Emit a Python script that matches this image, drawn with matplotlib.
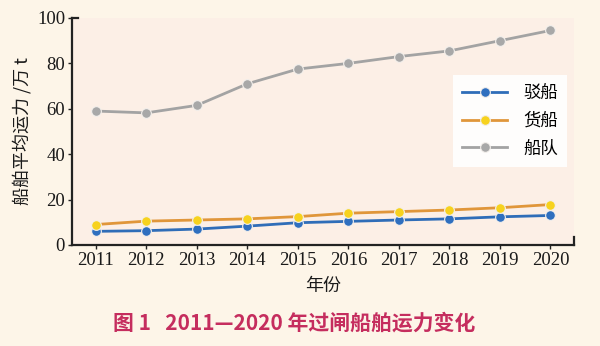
import matplotlib
matplotlib.use("Agg")
import matplotlib.pyplot as plt

years = [2011, 2012, 2013, 2014, 2015, 2016, 2017, 2018, 2019, 2020]
barge = [6.0, 6.3, 7.0, 8.3, 9.8, 10.4, 11.0, 11.5, 12.4, 13.0]
cargo = [9.0, 10.5, 11.0, 11.5, 12.5, 14.0, 14.7, 15.4, 16.4, 17.8]
fleet = [59.0, 58.2, 61.5, 71.0, 77.5, 80.0, 83.0, 85.5, 90.0, 94.5]
labels = ["驳船", "货船", "船队"]
yticks = [0, 20, 40, 60, 80, 100]

cjk = ["Noto Sans CJK SC", "DejaVu Sans"]
serif = ["Liberation Serif", "DejaVu Serif"]

fig = plt.figure(figsize=(6, 3.46), dpi=100)
fig.patch.set_facecolor("#fdf5e8")
ax = fig.add_axes([0.12, 0.292, 0.837, 0.656])
ax.set_facecolor("#fcefe6")

series = [
    (barge, "#2f6db8", "#2f6fbf"),
    (cargo, "#e0963a", "#f7d21e"),
    (fleet, "#a3a3a3", "#a8a8a8"),
]
handles = []
for (vals, lc, mc), lab in zip(series, labels):
    ln, = ax.plot(years, vals, color=lc, lw=2, marker="o", ms=7,
                  mfc=mc, mec="#f4f0ec", mew=0.8, label=lab)
    handles.append(ln)

ax.set_xlim(2010.53, 2020.47)
ax.set_ylim(0, 100)
ax.set_xticks(years)
ax.set_yticks(yticks)
for s in ["top", "right"]:
    ax.spines[s].set_visible(False)
for s in ["left", "bottom"]:
    ax.spines[s].set_linewidth(1.6)
    ax.spines[s].set_color("#222222")
ax.tick_params(axis="both", direction="out", length=3, width=1, colors="#222222",
               labelsize=13.5, pad=2)
for t in ax.get_xticklabels() + ax.get_yticklabels():
    t.set_family(serif)
    t.set_color("#1a1a1a")

# end caps on axes
ax.plot([1.0, 1.0], [0, 0.035], transform=ax.transAxes, color="#222222", lw=1.6, clip_on=False)
ax.plot([0, 0.012], [1.0, 1.0], transform=ax.transAxes, color="#222222", lw=1.6, clip_on=False)

ax.set_xlabel("年份", family=cjk, fontsize=13, labelpad=6, color="#1a1a1a")
ax.set_ylabel("船舶平均运力 /万 t", family=cjk, fontsize=13, labelpad=4, color="#1a1a1a")

leg = ax.legend(handles=handles, loc="upper right", bbox_to_anchor=(0.993, 0.765),
                prop={"family": cjk, "size": 12.5}, frameon=True, fancybox=False,
                handlelength=2.6, labelspacing=0.55, borderpad=0.55, handletextpad=0.9,
                borderaxespad=0.2)
leg.get_frame().set_facecolor("white")
leg.get_frame().set_edgecolor("none")
leg.get_frame().set_alpha(0.9)

fig.text(0.49, 0.066, "图 1   2011—2020 年过闸船舶运力变化", family=cjk, fontsize=15,
         fontweight="bold", color="#c52d5e", ha="center", va="center")

fig.savefig("out.png", dpi=100, facecolor=fig.get_facecolor())
